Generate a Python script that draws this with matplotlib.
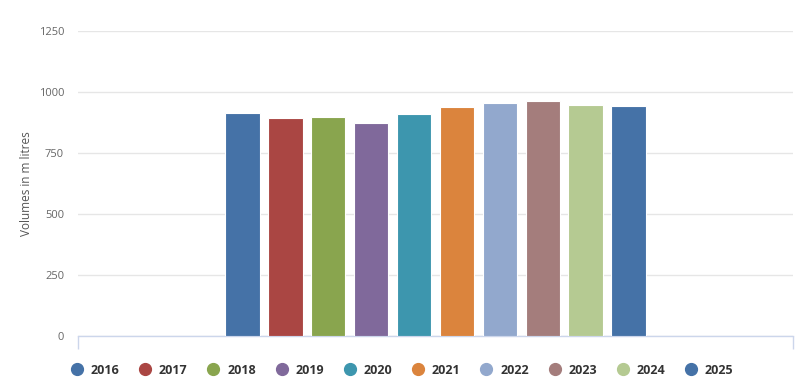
import matplotlib
matplotlib.use('Agg')
import matplotlib.pyplot as plt
from matplotlib.lines import Line2D

years = ['2016', '2017', '2018', '2019', '2020', '2021', '2022', '2023', '2024', '2025']
volumes = [914, 894, 898, 871, 911, 937, 953, 964, 948, 941]
colors = ['#4572A7', '#AA4643', '#89A54E', '#80699B', '#3D96AE',
          '#DB843D', '#92A8CD', '#A47D7C', '#B5CA92', '#4572A7']

plt.rcParams['font.family'] = ['Open Sans', 'DejaVu Sans']

fig = plt.figure(figsize=(8, 3.84), dpi=100)
ax = fig.add_axes([78 / 800, 1 - 336 / 384, 715 / 800, 305 / 384])

# one category spanning [-0.5, 0.5], grouped columns like highcharts
group_padding = 0.2
point_padding = 0.1
n = len(years)
slot = (1 - 2 * group_padding) / n
width = slot * (1 - 2 * point_padding)
for i, (yr, v, c) in enumerate(zip(years, volumes, colors)):
    x = -0.5 + group_padding + (i + 0.5) * slot
    ax.bar(x, v, width=width, color=c, edgecolor='white', linewidth=0.8, zorder=3)

ax.set_xlim(-0.5, 0.5)
ax.set_ylim(0, 1250)
ax.set_yticks([0, 250, 500, 750, 1000, 1250])
ax.yaxis.grid(True, color='#e6e6e6', linewidth=1)
ax.set_axisbelow(True)
ax.tick_params(axis='y', length=0, pad=10, labelsize=8, labelcolor='#666666')
ax.set_xticks([-0.5, 0.5])
ax.set_xticklabels([])
ax.tick_params(axis='x', length=9, width=1, color='#ccd6eb', direction='out')

for s in ['top', 'right', 'left']:
    ax.spines[s].set_visible(False)
ax.spines['bottom'].set_color('#ccd6eb')
ax.spines['bottom'].set_linewidth(1)

ax.set_ylabel('Volumes in m litres', fontsize=8.5, color='#555555', labelpad=4)

handles = [Line2D([], [], marker='o', ls='', color=c, markersize=8.5) for c in colors]
leg = fig.legend(handles, years, loc='center left', bbox_to_anchor=(58 / 800, 1 - 370 / 384),
                 ncol=n, frameon=False, handletextpad=0.5, columnspacing=1.47,
                 handlelength=1.2, prop={'size': 9, 'weight': 'bold'})
for t in leg.get_texts():
    t.set_color('#333333')

fig.savefig('out.png', dpi=100)
